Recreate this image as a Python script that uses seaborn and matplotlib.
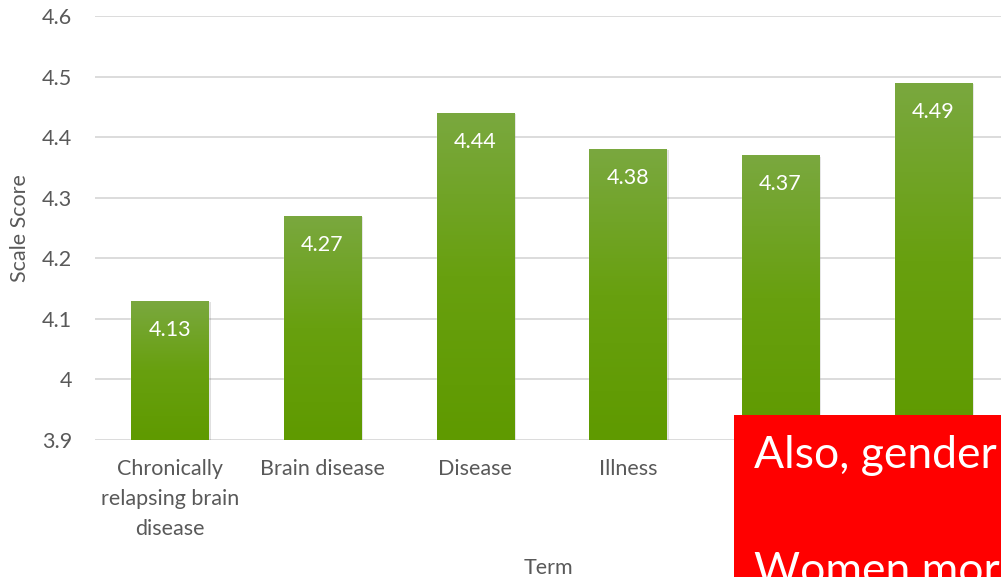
import numpy as np
import pandas as pd
import matplotlib
matplotlib.use("Agg")
import matplotlib.pyplot as plt
import seaborn as sns
from matplotlib.patches import Rectangle
from matplotlib.colors import LinearSegmentedColormap

terms = ["Chronically\nrelapsing brain\ndisease", "Brain disease", "Disease", "Illness", "Disorder", "Addiction"]
scores = [4.13, 4.27, 4.44, 4.38, 4.37, 4.49]
yticks = [3.9, 4.0, 4.1, 4.2, 4.3, 4.4, 4.5, 4.6]
ytick_labels = ["3.9", "4", "4.1", "4.2", "4.3", "4.4", "4.5", "4.6"]
hidden_terms = ["Disorder", "Addiction"]  # covered by the red box in the reference

sns.set_theme(style="white")
plt.rcParams['font.family'] = ['Lato', 'DejaVu Sans']

df = pd.DataFrame({"Term": terms, "Scale Score": scores})

fig = plt.figure(figsize=(10.01, 5.77), dpi=100)
ax = fig.add_axes([95/1001, 1-440/577, 1-95/1001, (440-16)/577])

sns.barplot(data=df, x="Term", y="Scale Score", color="#5f9a00", width=0.505, ax=ax, zorder=3)

ax.set_ylim(3.9, 4.6)
ax.set_xlim(-0.49, 5.445)
ax.set_yticks(yticks)
ax.set_yticklabels(ytick_labels)
ax.yaxis.grid(True, color="#d9d9d9", linewidth=1.3, zorder=0)
ax.set_axisbelow(True)
for s in ax.spines.values():
    s.set_visible(False)
ax.tick_params(axis='both', length=0, labelsize=15.5, labelcolor="#595959")
ax.tick_params(axis='x', pad=13.5)
ax.tick_params(axis='y', pad=16.5)
for lbl in ax.get_xticklabels():
    lbl.set_linespacing(1.62)
    lbl.set_verticalalignment("top")
    if lbl.get_text() in hidden_terms:
        lbl.set_visible(False)
ax.set_ylabel("Scale Score", fontsize=15.5, color="#595959", labelpad=8.5)
ax.set_xlabel("Term", fontsize=15.5, color="#595959", labelpad=14)

cmap = LinearSegmentedColormap.from_list("g", ["#5f9a00", "#68a00f", "#7aa83f"])
grad = np.linspace(0, 1, 256).reshape(-1, 1)
for p, v in zip(ax.patches, scores):
    x0, w = p.get_x(), p.get_width()
    y0 = 3.9
    sh = Rectangle((x0 + 0.012, y0), w + 0.004, v - y0 - 0.002, facecolor="#000000", alpha=0.12,
                   edgecolor="none", zorder=2)
    ax.add_patch(sh)
    im = ax.imshow(grad, extent=(x0, x0 + w, y0, v), origin="lower", cmap=cmap,
                   aspect="auto", zorder=3.5)
    im.set_clip_path(p)
    ax.text(x0 + w/2, v - 0.048, f"{v:.2f}", ha="center", va="center", color="white",
            fontsize=15.5, zorder=5)
ax.set_xlim(-0.49, 5.445)
ax.set_ylim(3.9, 4.6)

# red overlay box
fig.patches.append(Rectangle((734/1001, 0), 1, 1-415/577, transform=fig.transFigure,
                             facecolor="#ff0000", edgecolor="none", zorder=10))
fig.text(754/1001, 1-456/577, "Also, gender differences", color="white", fontsize=32,
         va="center", ha="left", zorder=11)
fig.text(754/1001, 1-572/577, "Women more", color="white", fontsize=32,
         va="center", ha="left", zorder=11)

fig.savefig("out.png", dpi=100)
